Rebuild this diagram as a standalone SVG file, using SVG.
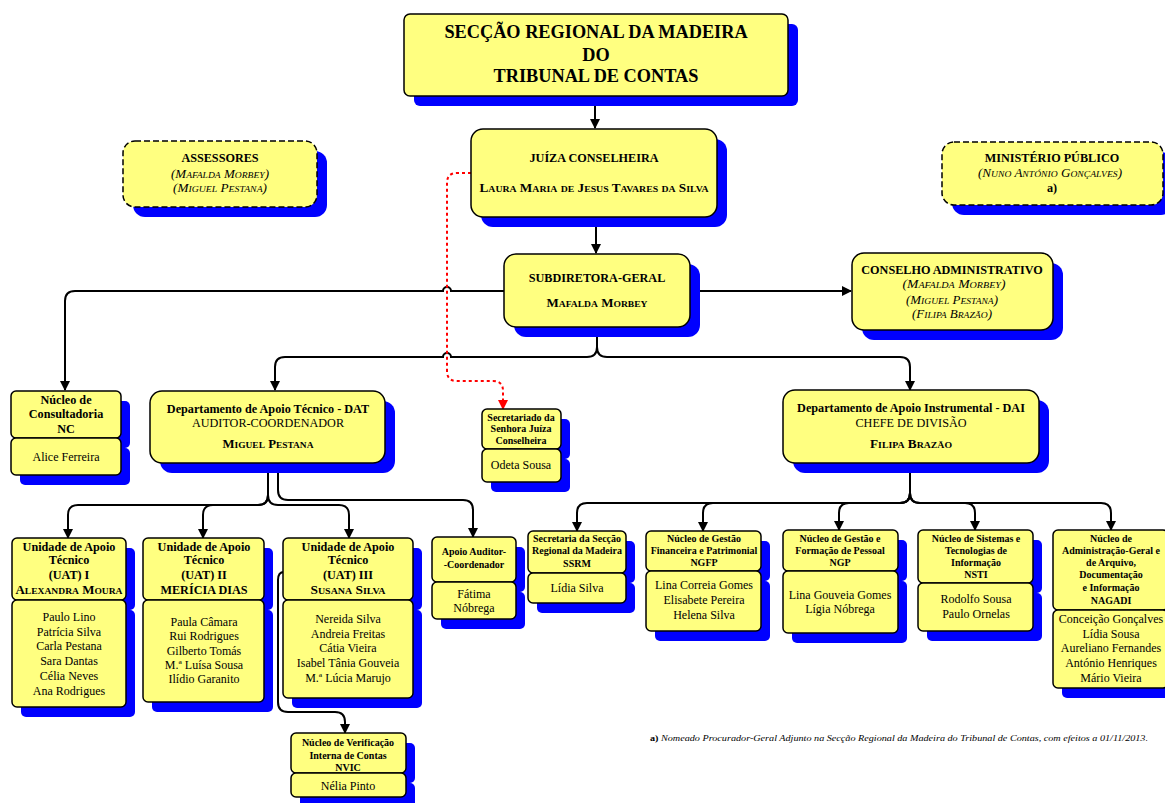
<svg xmlns="http://www.w3.org/2000/svg" width="1165" height="803" viewBox="0 0 1165 803">
<defs>
<style>
.b{fill:#FFFF80;stroke:#000;stroke-width:1.5}
.d{stroke-dasharray:6 3}
.s{fill:#0000FF}
.c{fill:none;stroke:#000;stroke-width:2}
.r{fill:none;stroke:#FF0000;stroke-width:2;stroke-dasharray:3 3}
text{font-family:"Liberation Serif","Times New Roman",serif;text-anchor:middle;fill:#000}
.t18{font-size:18.3px;font-weight:bold}
.t11b{font-size:12.2px;font-weight:bold}
.sc{font-variant:small-caps}
.it{font-style:italic}
.t11{font-size:12.2px}
.t9b{font-size:10px;font-weight:bold}
.n{font-size:12px}
</style>
<marker id="ah" markerWidth="10" markerHeight="10" refX="9" refY="5" orient="auto" markerUnits="userSpaceOnUse"><path d="M0,0 L10,5 L0,10 z" fill="#000"/></marker>
<marker id="ahr" markerWidth="10" markerHeight="10" refX="9" refY="5" orient="auto" markerUnits="userSpaceOnUse"><path d="M0,0 L10,5 L0,10 z" fill="#FF0000"/></marker>
</defs>
<rect width="1165" height="803" fill="#fff"/>

<g id="connectors">
<path class="c" d="M595,96 V128" marker-end="url(#ah)"/>
<path class="c" d="M596,217 V253" marker-end="url(#ah)"/>
<path class="c" d="M504,291 H451 A4,4 0 0 0 443,291 H75 Q65,291 65,301 V390" marker-end="url(#ah)"/>
<path class="c" d="M690,291 H851" marker-end="url(#ah)"/>
<path class="c" d="M597,327 V347 Q597,357 587,357 H451 A4,4 0 0 0 443,357 H285 Q275,357 275,367 V390" marker-end="url(#ah)"/>
<path class="c" d="M597,327 V347 Q597,357 607,357 H900 Q910,357 910,367 V390" marker-end="url(#ah)"/>
<path class="r" d="M471,173 H457 Q447,173 447,183 V371 Q447,381 457,381 H493 Q503,381 503,391 V409" marker-end="url(#ahr)"/>
<path class="c" d="M268,463 V495 Q268,505 258,505 H78 Q68,505 68,515 V538" marker-end="url(#ah)"/>
<path class="c" d="M268,463 V495 Q268,505 258,505 H213 Q203,505 203,515 V538" marker-end="url(#ah)"/>
<path class="c" d="M268,463 V495 Q268,505 278,505 H339 Q349,505 349,515 V538" marker-end="url(#ah)"/>
<path class="c" d="M278,463 V490 Q278,500 288,500 H463 Q473,500 473,510 V537" marker-end="url(#ah)"/>
<path class="c" d="M284,572 Q278,572 278,580 V702 Q278,712 288,712 H335 Q345,712 345,722 V733" marker-end="url(#ah)"/>
<path class="c" d="M910,463 V493 Q910,503 900,503 H587 Q577,503 577,513 V531" marker-end="url(#ah)"/>
<path class="c" d="M910,463 V493 Q910,503 900,503 H713 Q703,503 703,513 V531" marker-end="url(#ah)"/>
<path class="c" d="M910,463 V493 Q910,503 900,503 H849 Q839,503 839,513 V530" marker-end="url(#ah)"/>
<path class="c" d="M910,463 V493 Q910,503 920,503 H965 Q975,503 975,513 V530" marker-end="url(#ah)"/>
<path class="c" d="M910,463 V493 Q910,503 920,503 H1101 Q1111,503 1111,513 V530" marker-end="url(#ah)"/>
</g>

<g id="srmtc">
<rect class="s" x="414" y="24" width="384" height="82" rx="6"/>
<rect class="b" x="404" y="14" width="384" height="82" rx="6"/>
<text class="t18" x="596" y="38">SECÇÃO REGIONAL DA MADEIRA</text>
<text class="t18" x="596" y="61">DO</text>
<text class="t18" x="596" y="82">TRIBUNAL DE CONTAS</text>
</g>

<g id="juiza">
<rect class="s" x="481" y="139" width="246" height="88" rx="12"/>
<rect class="b" x="471" y="129" width="246" height="88" rx="12"/>
<text class="t11b" x="594" y="162">JUÍZA CONSELHEIRA</text>
<text class="t11b sc" x="594" y="192" textLength="229" lengthAdjust="spacingAndGlyphs">Laura Maria de Jesus Tavares da Silva</text>
</g>

<g id="assessores">
<rect class="s" x="133" y="151" width="194" height="66" rx="12"/>
<rect class="b d" x="123" y="141" width="194" height="66" rx="12"/>
<text class="t11b" x="220" y="162">ASSESSORES</text>
<text class="t11 it sc" x="220" y="178" textLength="98" lengthAdjust="spacingAndGlyphs">(Mafalda Morbey)</text>
<text class="t11 it sc" x="220" y="192" textLength="94" lengthAdjust="spacingAndGlyphs">(Miguel Pestana)</text>
</g>

<g id="ministerio">
<rect class="s" x="952" y="152" width="221" height="63" rx="12"/>
<rect class="b d" x="942" y="142" width="221" height="63" rx="12"/>
<text class="t11b" x="1052" y="162">MINISTÉRIO PÚBLICO</text>
<text class="t11 it sc" x="1050" y="177" textLength="144" lengthAdjust="spacingAndGlyphs">(Nuno António Gonçalves)</text>
<text class="t11b" x="1052" y="192">a)</text>
</g>

<g id="subdiretora">
<rect class="s" x="514" y="264" width="186" height="73" rx="12"/>
<rect class="b" x="504" y="254" width="186" height="73" rx="12"/>
<text class="t11b" x="597" y="282">SUBDIRETORA-GERAL</text>
<text class="t11b sc" x="597" y="307" textLength="101" lengthAdjust="spacingAndGlyphs">Mafalda Morbey</text>
</g>

<g id="conselho">
<rect class="s" x="862" y="263" width="201" height="77" rx="12"/>
<rect class="b" x="852" y="253" width="201" height="77" rx="12"/>
<text class="t11b" x="952" y="274">CONSELHO ADMINISTRATIVO</text>
<text class="t11 it sc" x="954" y="288" textLength="103" lengthAdjust="spacingAndGlyphs">(Mafalda Morbey)</text>
<text class="t11 it sc" x="952" y="304" textLength="92" lengthAdjust="spacingAndGlyphs">(Miguel Pestana)</text>
<text class="t11 it sc" x="952" y="318" textLength="80" lengthAdjust="spacingAndGlyphs">(Filipa Brazão)</text>
</g>

<g id="nc">
<rect class="s" x="20" y="401" width="110" height="47" rx="5"/>
<rect class="s" x="20" y="448" width="110" height="37" rx="5"/>
<rect class="b" x="11" y="391" width="110" height="47" rx="5"/>
<rect class="b" x="11" y="438" width="110" height="37" rx="5"/>
<text class="t11b" x="66" y="404">Núcleo de</text>
<text class="t11b" x="66" y="418">Consultadoria</text>
<text class="t11b" x="66" y="433">NC</text>
<text class="n" x="66" y="461">Alice Ferreira</text>
</g>

<g id="dat">
<rect class="s" x="160" y="401" width="235" height="72" rx="12"/>
<rect class="b" x="150" y="391" width="235" height="72" rx="12"/>
<text class="t11b" x="268" y="413">Departamento de Apoio Técnico - DAT</text>
<text class="t11" x="268" y="427">AUDITOR-COORDENADOR</text>
<text class="t11b sc" x="268" y="448" textLength="91" lengthAdjust="spacingAndGlyphs">Miguel Pestana</text>
</g>

<g id="secretariado">
<rect class="s" x="491" y="419" width="79" height="40" rx="5"/>
<rect class="s" x="491" y="459" width="79" height="33" rx="5"/>
<rect class="b" x="482" y="409" width="79" height="40" rx="5"/>
<rect class="b" x="482" y="449" width="79" height="33" rx="5"/>
<text class="t9b" x="521" y="421">Secretariado da</text>
<text class="t9b" x="521" y="432">Senhora Juíza</text>
<text class="t9b" x="521" y="444">Conselheira</text>
<text class="n" x="521" y="469">Odeta Sousa</text>
</g>

<g id="dai">
<rect class="s" x="793" y="400" width="256" height="73" rx="12"/>
<rect class="b" x="783" y="390" width="256" height="73" rx="12"/>
<text class="t11b" x="911" y="412">Departamento de Apoio Instrumental - DAI</text>
<text class="t11" x="911" y="427">CHEFE DE DIVISÃO</text>
<text class="t11b sc" x="911" y="448" textLength="82" lengthAdjust="spacingAndGlyphs">Filipa Brazão</text>
</g>

<g id="uat1">
<rect class="s" x="21" y="548" width="114" height="62" rx="5"/>
<rect class="s" x="21" y="610" width="114" height="107" rx="5"/>
<rect class="b" x="12" y="538" width="114" height="62" rx="5"/>
<rect class="b" x="12" y="600" width="114" height="107" rx="5"/>
<text class="t11b" x="69" y="551">Unidade de Apoio</text>
<text class="t11b" x="69" y="564">Técnico</text>
<text class="t11b" x="69" y="579">(UAT) I</text>
<text class="t11b sc" x="69" y="594" textLength="107" lengthAdjust="spacingAndGlyphs">Alexandra Moura</text>
<text class="n" x="69" y="621">Paulo Lino</text>
<text class="n" x="69" y="636">Patrícia Silva</text>
<text class="n" x="69" y="650">Carla Pestana</text>
<text class="n" x="69" y="665">Sara Dantas</text>
<text class="n" x="69" y="680">Célia Neves</text>
<text class="n" x="69" y="695">Ana Rodrigues</text>
</g>

<g id="uat2">
<rect class="s" x="152" y="548" width="121" height="62" rx="5"/>
<rect class="s" x="152" y="610" width="121" height="102" rx="5"/>
<rect class="b" x="143" y="538" width="121" height="62" rx="5"/>
<rect class="b" x="143" y="600" width="121" height="102" rx="5"/>
<text class="t11b" x="204" y="551">Unidade de Apoio</text>
<text class="t11b" x="204" y="564">Técnico</text>
<text class="t11b" x="204" y="579">(UAT) II</text>
<text class="t11b" x="204" y="594">MERÍCIA DIAS</text>
<text class="n" x="204" y="626">Paula Câmara</text>
<text class="n" x="204" y="640">Rui Rodrigues</text>
<text class="n" x="204" y="655">Gilberto Tomás</text>
<text class="n" x="204" y="669">M.ª Luísa Sousa</text>
<text class="n" x="204" y="683">Ilídio Garanito</text>
</g>

<g id="uat3">
<rect class="s" x="292" y="548" width="130" height="62" rx="5"/>
<rect class="s" x="292" y="610" width="130" height="98" rx="5"/>
<rect class="b" x="283" y="538" width="130" height="62" rx="5"/>
<rect class="b" x="283" y="600" width="130" height="98" rx="5"/>
<text class="t11b" x="348" y="551">Unidade de Apoio</text>
<text class="t11b" x="348" y="564">Técnico</text>
<text class="t11b" x="348" y="579">(UAT) III</text>
<text class="t11b sc" x="348" y="594" textLength="75" lengthAdjust="spacingAndGlyphs">Susana Silva</text>
<text class="n" x="348" y="623">Nereida Silva</text>
<text class="n" x="348" y="638">Andreia Freitas</text>
<text class="n" x="348" y="652">Cátia Vieira</text>
<text class="n" x="348" y="667">Isabel Tânia Gouveia</text>
<text class="n" x="348" y="682">M.ª Lúcia Marujo</text>
</g>

<g id="apoio">
<rect class="s" x="441" y="547" width="84" height="45" rx="5"/>
<rect class="s" x="441" y="592" width="84" height="37" rx="5"/>
<rect class="b" x="432" y="537" width="84" height="45" rx="5"/>
<rect class="b" x="432" y="582" width="84" height="37" rx="5"/>
<text class="t9b" x="474" y="555">Apoio Auditor-</text>
<text class="t9b" x="474" y="568">-Coordenador</text>
<text class="n" x="474" y="598">Fátima</text>
<text class="n" x="474" y="612">Nóbrega</text>
</g>

<g id="nvic">
<rect class="s" x="300" y="743" width="115" height="40" rx="5"/>
<rect class="s" x="300" y="783" width="115" height="24" rx="5"/>
<rect class="b" x="291" y="733" width="115" height="40" rx="5"/>
<rect class="b" x="291" y="773" width="115" height="24" rx="5"/>
<text class="t9b" x="348" y="746">Núcleo de Verificação</text>
<text class="t9b" x="348" y="759">Interna de Contas</text>
<text class="t9b" x="348" y="771">NVIC</text>
<text class="n" x="348" y="790">Nélia Pinto</text>
</g>

<g id="ssrm">
<rect class="s" x="537" y="541" width="98" height="42" rx="5"/>
<rect class="s" x="537" y="583" width="98" height="30" rx="5"/>
<rect class="b" x="528" y="531" width="98" height="42" rx="5"/>
<rect class="b" x="528" y="573" width="98" height="30" rx="5"/>
<text class="t9b" x="577" y="542">Secretaria da Secção</text>
<text class="t9b" x="577" y="554">Regional da Madeira</text>
<text class="t9b" x="577" y="567">SSRM</text>
<text class="n" x="577" y="592">Lídia Silva</text>
</g>

<g id="ngfp">
<rect class="s" x="655" y="541" width="115" height="40" rx="5"/>
<rect class="s" x="655" y="581" width="115" height="60" rx="5"/>
<rect class="b" x="646" y="531" width="115" height="40" rx="5"/>
<rect class="b" x="646" y="571" width="115" height="60" rx="5"/>
<text class="t9b" x="704" y="542">Núcleo de Gestão</text>
<text class="t9b" x="704" y="554">Financeira e Patrimonial</text>
<text class="t9b" x="704" y="566">NGFP</text>
<text class="n" x="704" y="589">Lina Correia Gomes</text>
<text class="n" x="704" y="604">Elisabete Pereira</text>
<text class="n" x="704" y="619">Helena Silva</text>
</g>

<g id="ngp">
<rect class="s" x="792" y="540" width="115" height="41" rx="5"/>
<rect class="s" x="792" y="581" width="115" height="62" rx="5"/>
<rect class="b" x="783" y="530" width="115" height="41" rx="5"/>
<rect class="b" x="783" y="571" width="115" height="62" rx="5"/>
<text class="t9b" x="840" y="542">Núcleo de Gestão e</text>
<text class="t9b" x="840" y="554">Formação de Pessoal</text>
<text class="t9b" x="840" y="566">NGP</text>
<text class="n" x="840" y="599">Lina Gouveia Gomes</text>
<text class="n" x="840" y="613">Lígia Nóbrega</text>
</g>

<g id="nsti">
<rect class="s" x="927" y="540" width="115" height="53" rx="5"/>
<rect class="s" x="927" y="593" width="115" height="48" rx="5"/>
<rect class="b" x="918" y="530" width="115" height="53" rx="5"/>
<rect class="b" x="918" y="583" width="115" height="48" rx="5"/>
<text class="t9b" x="976" y="542">Núcleo de Sistemas e</text>
<text class="t9b" x="976" y="554">Tecnologias de</text>
<text class="t9b" x="976" y="566">Informação</text>
<text class="t9b" x="976" y="578">NSTI</text>
<text class="n" x="976" y="603">Rodolfo Sousa</text>
<text class="n" x="976" y="618">Paulo Ornelas</text>
</g>

<g id="nagadi">
<rect class="s" x="1062" y="540" width="115" height="80" rx="5"/>
<rect class="s" x="1062" y="620" width="115" height="78" rx="5"/>
<rect class="b" x="1053" y="530" width="115" height="80" rx="5"/>
<rect class="b" x="1053" y="610" width="115" height="78" rx="5"/>
<text class="t9b" x="1111" y="542">Núcleo de</text>
<text class="t9b" x="1111" y="554">Administração-Geral e</text>
<text class="t9b" x="1111" y="566">de Arquivo,</text>
<text class="t9b" x="1111" y="578">Documentação</text>
<text class="t9b" x="1111" y="591">e Informação</text>
<text class="t9b" x="1111" y="604">NAGADI</text>
<text class="n" x="1111" y="623">Conceição Gonçalves</text>
<text class="n" x="1111" y="638">Lídia Sousa</text>
<text class="n" x="1111" y="652">Aureliano Fernandes</text>
<text class="n" x="1111" y="667">António Henriques</text>
<text class="n" x="1111" y="682">Mário Vieira</text>
</g>

<g id="nota">
<text x="650" y="741" style="font-size:8px;text-anchor:start" textLength="498" lengthAdjust="spacingAndGlyphs"><tspan font-weight="bold">a)</tspan><tspan font-style="italic"> Nomeado Procurador-Geral Adjunto na Secção Regional da Madeira do Tribunal de Contas, com efeitos a 01/11/2013.</tspan></text>
</g>
</svg>
